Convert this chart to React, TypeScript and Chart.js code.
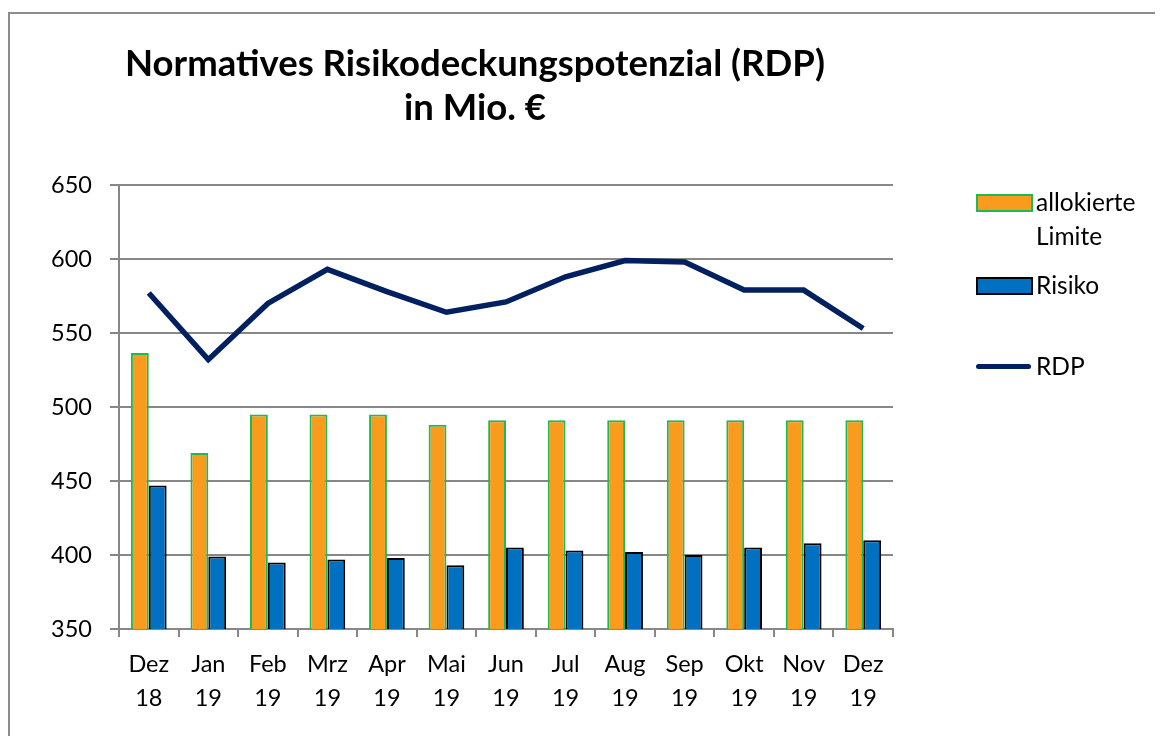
import React, { useEffect, useRef } from "react";
import { Chart, registerables } from "chart.js";

Chart.register(...registerables);

const months: string[][] = [
  ["Dez", "18"], ["Jan", "19"], ["Feb", "19"], ["Mrz", "19"], ["Apr", "19"],
  ["Mai", "19"], ["Jun", "19"], ["Jul", "19"], ["Aug", "19"], ["Sep", "19"],
  ["Okt", "19"], ["Nov", "19"], ["Dez", "19"],
];
const allokierteLimite: number[] = [536.5, 469, 495, 495, 495, 488, 491, 491, 491, 491, 491, 491, 491];
const risiko: number[] = [447, 399, 395, 397, 398, 393, 405, 403, 402, 400, 405, 408, 410];
const rdp: number[] = [577, 532, 570, 593, 578, 564, 571, 588, 599, 598, 579, 579, 553];
const yTicks: number[] = [350, 400, 450, 500, 550, 600, 650];

const FONT = "Lato, 'Open Sans', sans-serif";
const GRID = "#878787";

export default function App() {
  const ref = useRef<HTMLCanvasElement | null>(null);

  useEffect(() => {
    if (!ref.current) return;
    const chart = new Chart(ref.current, {
      data: {
        labels: months,
        datasets: [
          {
            type: "line",
            label: "RDP",
            data: rdp,
            borderColor: "#002060",
            borderWidth: 5.5,
            pointRadius: 0,
            tension: 0,
            order: 0,
          } as any,
          {
            type: "bar",
            label: "allokierte Limite",
            data: allokierteLimite,
            backgroundColor: "#F99C1E",
            borderColor: "#1DB954",
            borderWidth: 2,
            categoryPercentage: 0.6,
            barPercentage: 1,
            order: 1,
          },
          {
            type: "bar",
            label: "Risiko",
            data: risiko,
            backgroundColor: "#0070C0",
            borderColor: "#000000",
            borderWidth: 2,
            categoryPercentage: 0.6,
            barPercentage: 1,
            order: 1,
          },
        ],
      },
      options: {
        animation: false,
        responsive: false,
        maintainAspectRatio: false,
        layout: { padding: { left: 0, right: 270, top: 177, bottom: 0 } },
        plugins: {
          legend: { display: false },
          title: { display: false },
          tooltip: { enabled: false },
        },
        scales: {
          x: {
            grid: {
              offset: true,
              drawOnChartArea: false,
              drawTicks: true,
              tickLength: 8,
              color: GRID,
              lineWidth: 2,
            },
            border: { color: GRID, width: 2 },
            ticks: {
              color: "#000",
              padding: 11,
              maxRotation: 0,
              autoSkip: false,
              font: { family: FONT, size: 23.5, lineHeight: 1.42 },
            },
            afterFit: (s: any) => { s.height = 107; },
          },
          y: {
            min: 350,
            max: 650,
            afterBuildTicks: (s: any) => { s.ticks = yTicks.map((v) => ({ value: v })); },
            grid: {
              color: GRID,
              lineWidth: 2,
              tickLength: 9,
              drawTicks: true,
            },
            border: { color: GRID, width: 2 },
            ticks: {
              color: "#000",
              padding: 18,
              font: { family: FONT, size: 23.5 },
            },
            afterFit: (s: any) => { s.width = 111; },
          },
        },
      },
    });
    return () => chart.destroy();
  }, []);

  const legendText: React.CSSProperties = {
    position: "absolute",
    fontFamily: FONT,
    fontSize: 24.5,
    color: "#000",
    lineHeight: "34px",
    whiteSpace: "nowrap",
  };

  return (
    <div style={{ position: "relative", width: 1155, height: 728, overflow: "hidden", background: "#fff" }}>
      <div
        style={{
          position: "absolute",
          left: 0,
          top: 4,
          width: 1200,
          height: 800,
          borderTop: "2px solid #8c8c8c",
          borderLeft: "2px solid #8c8c8c",
          boxSizing: "border-box",
        }}
      />
      <canvas ref={ref} width={1155} height={728} style={{ position: "absolute", left: 0, top: 0 }} />
      <div
        style={{
          position: "absolute",
          left: 0,
          width: 934,
          top: 32,
          textAlign: "center",
          fontFamily: FONT,
          fontWeight: "bold",
          fontSize: 36.5,
          lineHeight: "44px",
          color: "#000",
        }}
      >
        <div>Normatives Risikodeckungspotenzial (RDP)</div>
        <div>in Mio. €</div>
      </div>
      {/* legend */}
      <div style={{ position: "absolute", left: 968, top: 186, width: 53, height: 14, background: "#F99C1E", border: "2px solid #1DB954" }} />
      <div style={{ ...legendText, left: 1028, top: 177 }}>allokierte<br />Limite</div>
      <div style={{ position: "absolute", left: 968, top: 269, width: 53, height: 14, background: "#0070C0", border: "2px solid #000" }} />
      <div style={{ ...legendText, left: 1028, top: 260 }}>Risiko</div>
      <div style={{ position: "absolute", left: 968, top: 356, width: 55, height: 5, background: "#002060", borderRadius: 3 }} />
      <div style={{ ...legendText, left: 1028, top: 341 }}>RDP</div>
    </div>
  );
}
